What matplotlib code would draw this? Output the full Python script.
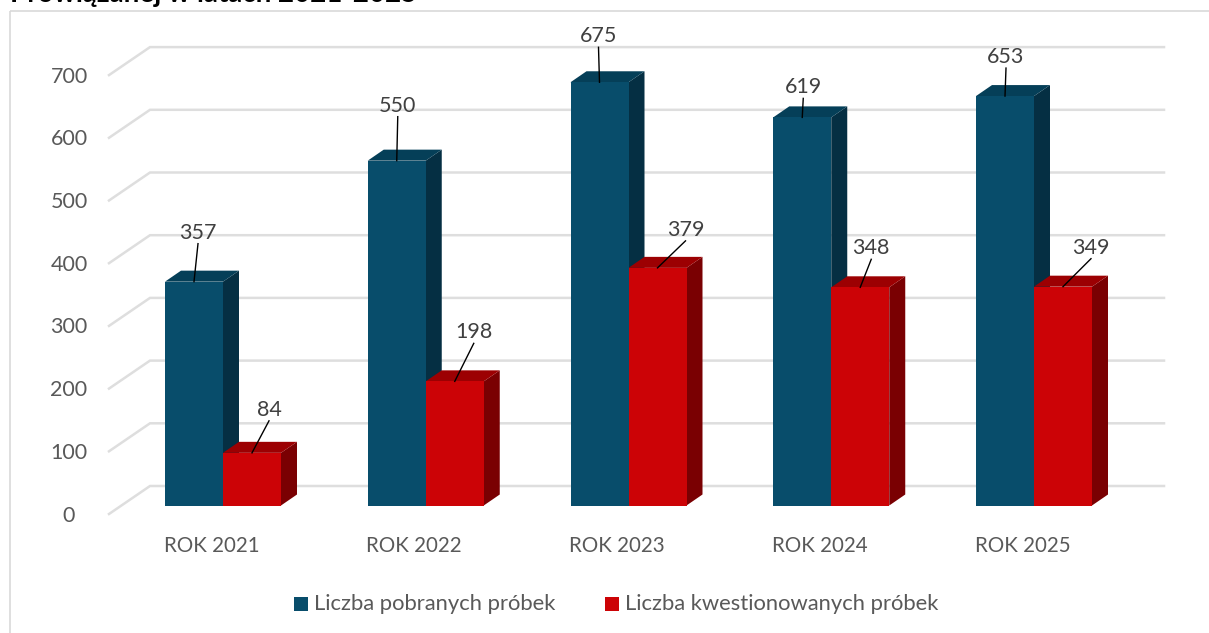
import numpy as np
import matplotlib
matplotlib.use("Agg")
import matplotlib.pyplot as plt
from matplotlib.patches import Polygon, Rectangle

plt.rcParams['font.family'] = ['Lato', 'DejaVu Sans']

W, H = 1209, 633

lata = ["ROK 2021", "ROK 2022", "ROK 2023", "ROK 2024", "ROK 2025"]
pobrane = [357, 550, 675, 619, 653]
kwestionowane = [84, 198, 379, 348, 349]
ticks = [0, 100, 200, 300, 400, 500, 600, 700]

# przesuniecia etykiet wzgledem gory slupka, w pikselach
off_pobrane = [(4, -51), (1, -57), (-1, -48), (1, -32), (1, -41)]
off_kwest = [(17, -45), (19, -51), (28, -40), (11, -41), (28, -41)]

niebieski = ("#084d6b", "#053f58", "#052f43")
czerwony = ("#cc0306", "#9c0002", "#7a0002")
kolor_tekst = "#595959"
kolor_siatka = "#dedede"

# skala: 202.75 px na kategorie, 0.627 px na jednostke
px_x = 202.75
px_y = 0.627
x0 = 223
y0 = 505.5

fig = plt.figure(figsize=(W / 100, H / 100), dpi=100)
ax = fig.add_axes([0, 0, 1, 1])
ax.set_xlim(-x0 / px_x, (W - x0) / px_x)
ax.set_ylim((y0 - H) / px_y, y0 / px_y)
ax.axis("off")

sz = 58 / px_x       # szerokosc slupka
gx = 16 / px_x       # glebia 3d
gy = 11 / px_y


def dx(p):
    return p / px_x


def dy(p):
    return -p / px_y


# ramka wykresu
ax.add_patch(Rectangle((dx(10) - x0 / px_x, dy(11) + y0 / px_y), dx(1300), dy(700),
                       fill=False, ec="#d9d9d9", lw=1.2, zorder=1))

# tytul uciety u gory
ax.text(dx(10) - x0 / px_x, dy(2) + y0 / px_y, "Prowi\u0105zanej w latach 2021-2025", fontsize=20,
        fontweight="bold", color="black", va="baseline", ha="left", zorder=1)

# siatka na tylnej scianie i podlodze
left = dx(109) - x0 / px_x
back = dx(150) - x0 / px_x
right = dx(1164) - x0 / px_x
for t in ticks:
    yf = t + dy(8.5)
    yb = t + dy(-19.5)
    ax.plot([left, back, right], [yf, yb, yb], color=kolor_siatka, lw=1.8, zorder=2,
            solid_joinstyle="miter")
    ax.text(dx(69) - x0 / px_x, t + dy(10), str(t), ha="center", va="center", fontsize=15.5, color=kolor_tekst)


def slupek(x, v, kol):
    ax.add_patch(Polygon([(x + sz, 0), (x + sz + gx, gy), (x + sz + gx, v + gy), (x + sz, v)],
                         fc=kol[2], ec="none", zorder=3))
    ax.add_patch(Polygon([(x, v), (x + gx, v + gy), (x + sz + gx, v + gy), (x + sz, v)],
                         fc=kol[1], ec="none", zorder=3))
    ax.add_patch(Rectangle((x, 0), sz, v, fc=kol[0], ec="none", zorder=4))


def etykieta(x, v, off):
    xc = x + sz / 2
    xt = xc + dx(off[0])
    yt = v + dy(off[1])
    ax.plot([xc, xt], [v, yt + dy(13)], color="black", lw=1.0, zorder=6)
    ax.text(xt, yt + dy(2), str(v), ha="center", va="center", fontsize=15.5, color="#404040", zorder=7)


for i in range(len(lata)):
    slupek(i - sz, pobrane[i], niebieski)
    slupek(i, kwestionowane[i], czerwony)
    etykieta(i - sz, pobrane[i], off_pobrane[i])
    etykieta(i, kwestionowane[i], off_kwest[i])
    ax.text(i + dx(-11.5), dy(41), lata[i], ha="center", va="center", fontsize=14.8, color=kolor_tekst)

# legenda
ax.add_patch(Rectangle((dx(294) - x0 / px_x, dy(105)), dx(14), dy(-14), fc=niebieski[0], ec="none"))
ax.text(dx(314) - x0 / px_x, dy(99), "Liczba pobranych pr\u00f3bek", va="center", ha="left",
        fontsize=15.85, color=kolor_tekst)
ax.add_patch(Rectangle((dx(605) - x0 / px_x, dy(105)), dx(14), dy(-14), fc=czerwony[0], ec="none"))
ax.text(dx(625) - x0 / px_x, dy(99), "Liczba kwestionowanych pr\u00f3bek", va="center", ha="left",
        fontsize=15.85, color=kolor_tekst)

fig.savefig("out.png", dpi=100)
